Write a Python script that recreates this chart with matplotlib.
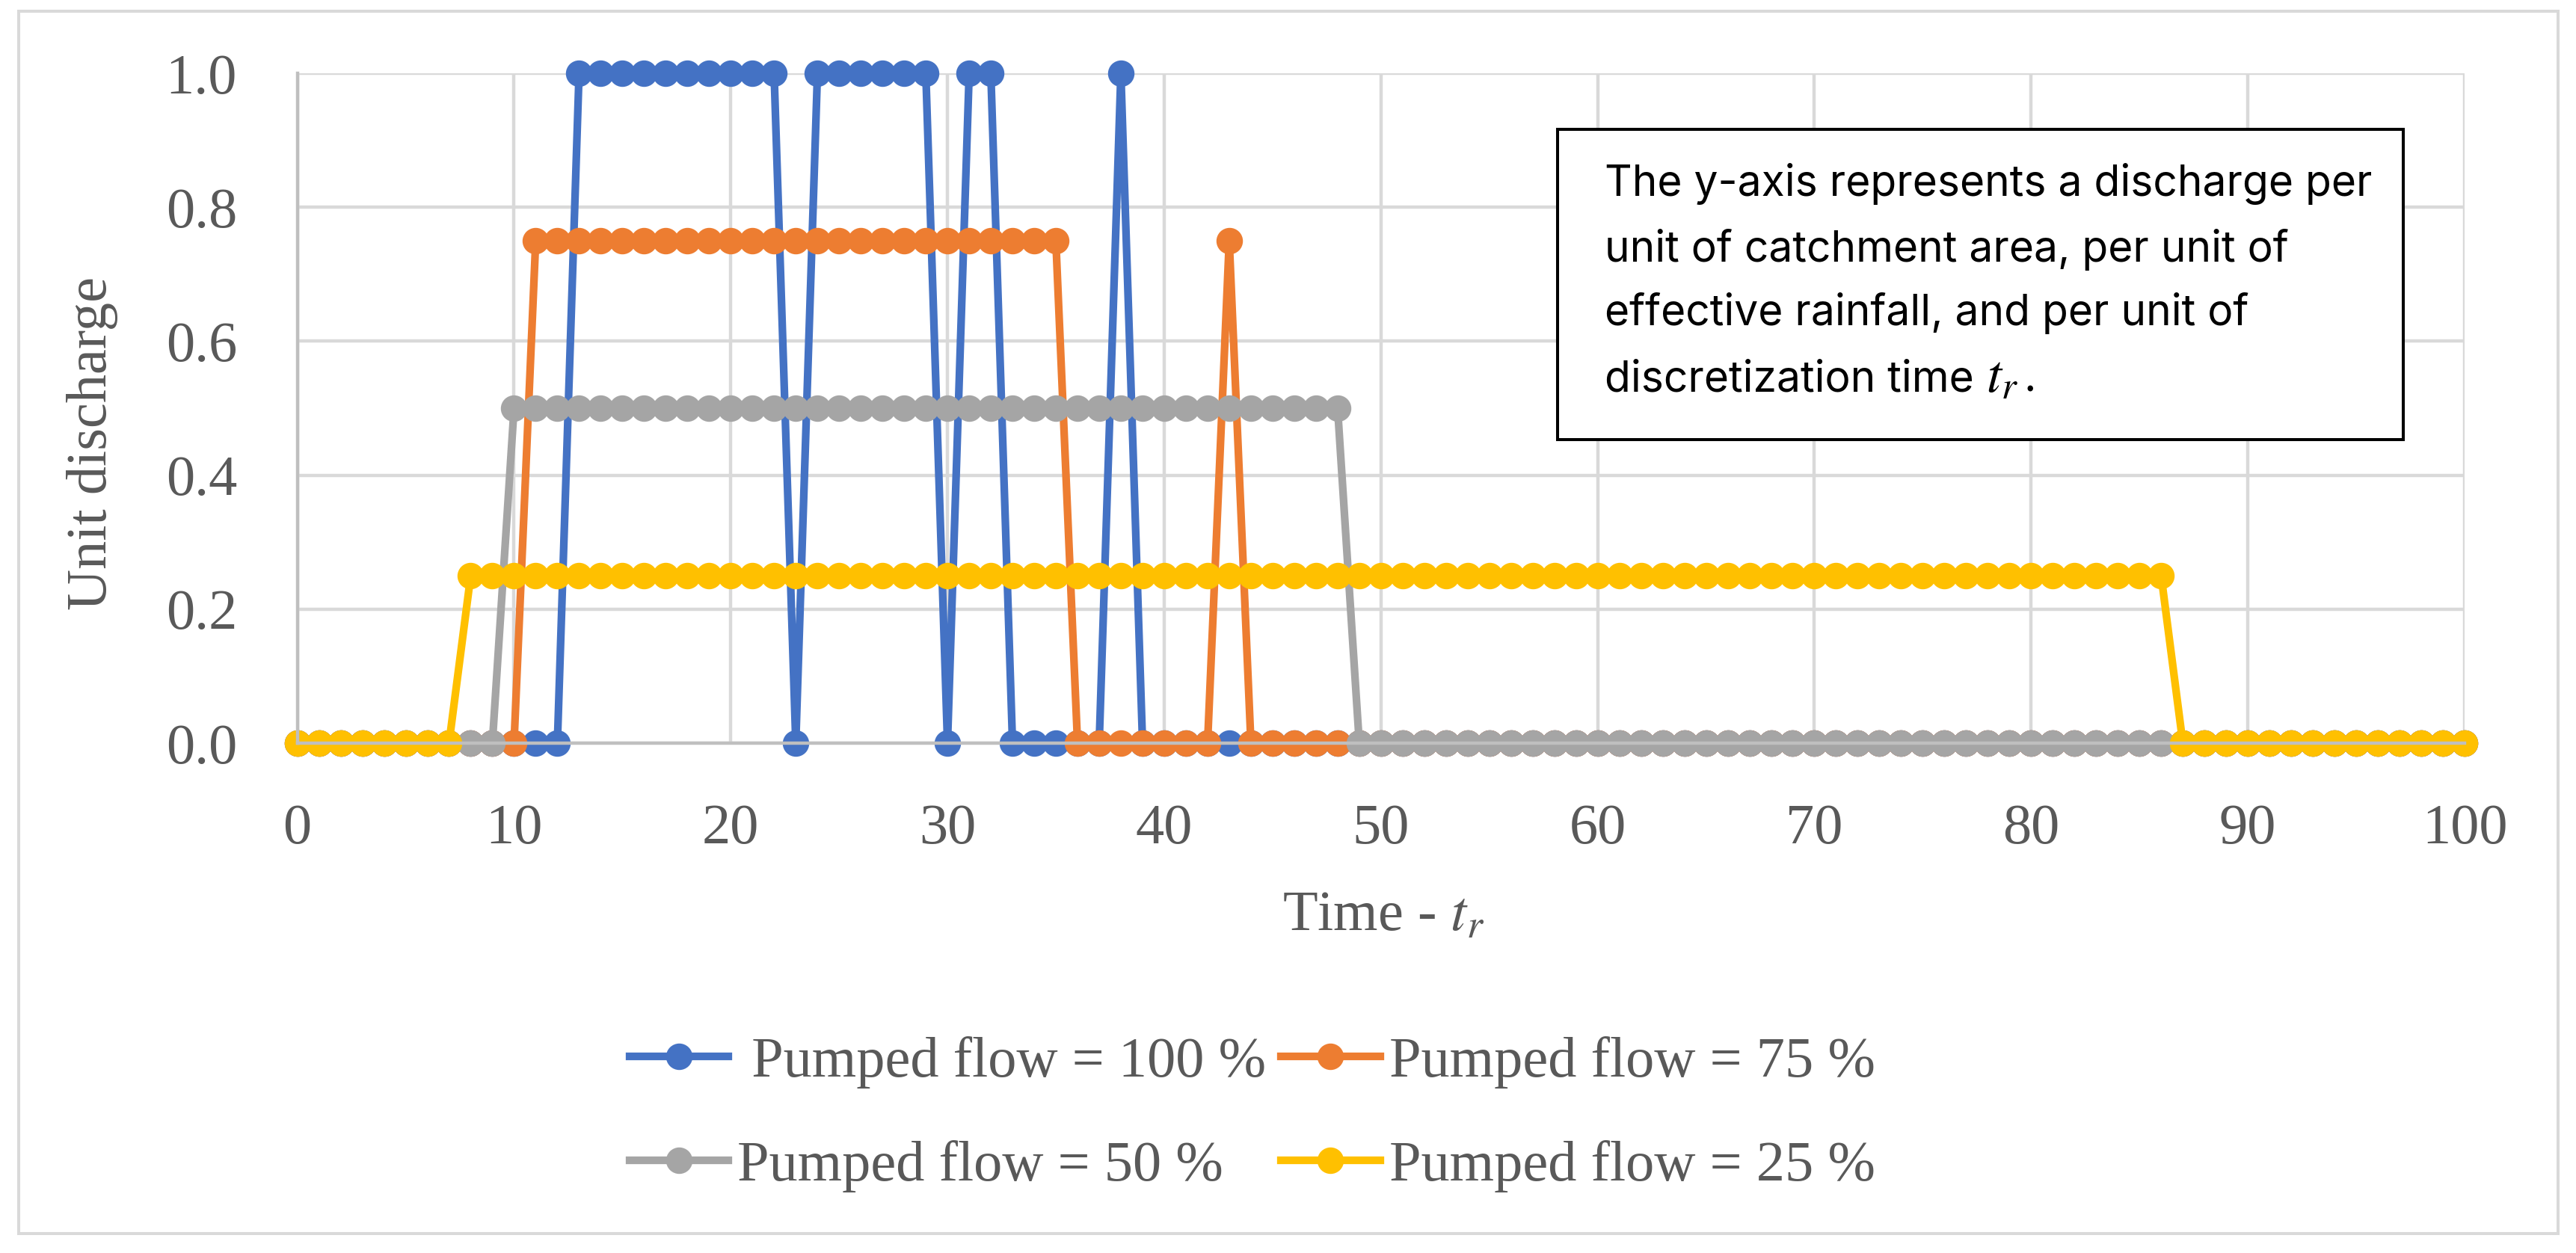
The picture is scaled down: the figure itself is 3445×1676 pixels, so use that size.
import matplotlib.pyplot as plt
from matplotlib.patches import Rectangle, FancyBboxPatch

plt.rcParams['font.family'] = ['Liberation Serif', 'DejaVu Serif']
plt.rcParams['mathtext.fontset'] = 'stix'

# time steps (in units of t_r)
t = list(range(101))

# unit discharge for each pumped-flow ratio
q100 = [0, 0, 0, 0, 0, 0, 0, 0, 0, 0,
        0, 0, 0, 1, 1, 1, 1, 1, 1, 1,
        1, 1, 1, 0, 1, 1, 1, 1, 1, 1,
        0, 1, 1, 0, 0, 0, 0, 0, 1, 0,
        0, 0, 0, 0, 0, 0, 0, 0, 0, 0,
        0, 0, 0, 0, 0, 0, 0, 0, 0, 0,
        0, 0, 0, 0, 0, 0, 0, 0, 0, 0,
        0, 0, 0, 0, 0, 0, 0, 0, 0, 0,
        0, 0, 0, 0, 0, 0, 0, 0, 0, 0,
        0, 0, 0, 0, 0, 0, 0, 0, 0, 0,
        0]
q75 = [0, 0, 0, 0, 0, 0, 0, 0, 0, 0,
       0, 0.75, 0.75, 0.75, 0.75, 0.75, 0.75, 0.75, 0.75, 0.75,
       0.75, 0.75, 0.75, 0.75, 0.75, 0.75, 0.75, 0.75, 0.75, 0.75,
       0.75, 0.75, 0.75, 0.75, 0.75, 0.75, 0, 0, 0, 0,
       0, 0, 0, 0.75, 0, 0, 0, 0, 0, 0,
       0, 0, 0, 0, 0, 0, 0, 0, 0, 0,
       0, 0, 0, 0, 0, 0, 0, 0, 0, 0,
       0, 0, 0, 0, 0, 0, 0, 0, 0, 0,
       0, 0, 0, 0, 0, 0, 0, 0, 0, 0,
       0, 0, 0, 0, 0, 0, 0, 0, 0, 0,
       0]
q50 = [0, 0, 0, 0, 0, 0, 0, 0, 0, 0,
       0.5, 0.5, 0.5, 0.5, 0.5, 0.5, 0.5, 0.5, 0.5, 0.5,
       0.5, 0.5, 0.5, 0.5, 0.5, 0.5, 0.5, 0.5, 0.5, 0.5,
       0.5, 0.5, 0.5, 0.5, 0.5, 0.5, 0.5, 0.5, 0.5, 0.5,
       0.5, 0.5, 0.5, 0.5, 0.5, 0.5, 0.5, 0.5, 0.5, 0,
       0, 0, 0, 0, 0, 0, 0, 0, 0, 0,
       0, 0, 0, 0, 0, 0, 0, 0, 0, 0,
       0, 0, 0, 0, 0, 0, 0, 0, 0, 0,
       0, 0, 0, 0, 0, 0, 0, 0, 0, 0,
       0, 0, 0, 0, 0, 0, 0, 0, 0, 0,
       0]
q25 = [0, 0, 0, 0, 0, 0, 0, 0, 0.25, 0.25,
       0.25, 0.25, 0.25, 0.25, 0.25, 0.25, 0.25, 0.25, 0.25, 0.25,
       0.25, 0.25, 0.25, 0.25, 0.25, 0.25, 0.25, 0.25, 0.25, 0.25,
       0.25, 0.25, 0.25, 0.25, 0.25, 0.25, 0.25, 0.25, 0.25, 0.25,
       0.25, 0.25, 0.25, 0.25, 0.25, 0.25, 0.25, 0.25, 0.25, 0.25,
       0.25, 0.25, 0.25, 0.25, 0.25, 0.25, 0.25, 0.25, 0.25, 0.25,
       0.25, 0.25, 0.25, 0.25, 0.25, 0.25, 0.25, 0.25, 0.25, 0.25,
       0.25, 0.25, 0.25, 0.25, 0.25, 0.25, 0.25, 0.25, 0.25, 0.25,
       0.25, 0.25, 0.25, 0.25, 0.25, 0.25, 0.25, 0, 0, 0,
       0, 0, 0, 0, 0, 0, 0, 0, 0, 0,
       0]

labels = [' Pumped flow = 100 %', 'Pumped flow = 75 %', 'Pumped flow = 50 %', 'Pumped flow = 25 %']
colors = ['#4472C4', '#ED7D31', '#A5A5A5', '#FFC000']
xticks = [0, 10, 20, 30, 40, 50, 60, 70, 80, 90, 100]
yticks = [0.0, 0.2, 0.4, 0.6, 0.8, 1.0]

W, H = 3445, 1676
grey_txt = '#595959'
fs = 55

fig = plt.figure(figsize=(W / 100, H / 100), dpi=100)
ax = fig.add_axes([397.6 / W, 1 - 994 / H, (3296 - 397.6) / W, (994 - 98) / H])

handles = []
for q, c, lab in zip([q100, q75, q50, q25], colors, labels):
    h, = ax.plot(t, q, '-o', color=c, lw=7.4, ms=24.5, clip_on=False, label=lab)
    handles.append(h)

ax.set_xlim(0, 100)
ax.set_ylim(0, 1)
ax.set_xticks(xticks)
ax.set_yticks(yticks)
ax.set_yticklabels(['{:.1f}'.format(v) for v in yticks])
ax.tick_params(length=0, labelsize=fs, labelcolor=grey_txt, pad=58)
ax.grid(color='#D9D9D9', lw=3.2)
ax.set_axisbelow(True)
for s in ['top', 'right']:
    ax.spines[s].set_visible(False)
for s in ['left', 'bottom']:
    ax.spines[s].set_color('#BFBFBF')
    ax.spines[s].set_linewidth(3.2)

fig.text(123 / W, 1 - 593 / H, 'Unit discharge', rotation=90, ha='center', va='center',
         fontsize=fs, color=grey_txt)
fig.text(1850 / W, 1 - 1245 / H, r'Time - $t_r$', ha='center', va='baseline',
         fontsize=fs, color=grey_txt)

# legend: matplotlib fills by column, so reorder to get rows 100/75 and 50/25
order = [0, 2, 1, 3]
fig.legend([handles[i] for i in order], [labels[i] for i in order], ncol=2,
           loc='upper left', bbox_to_anchor=(842 / W, 1 - 1386 / H), frameon=False,
           fontsize=fs, handlelength=1.73, handletextpad=0.16, columnspacing=0.26,
           labelspacing=0.9, borderpad=0, borderaxespad=0, labelcolor=grey_txt)

# note box
x0, y0, x1, y1 = 2083, 173, 3214, 588
fig.patches.append(FancyBboxPatch((x0 / W, 1 - y1 / H), (x1 - x0) / W, (y1 - y0) / H,
                                  boxstyle='square,pad=0', transform=fig.transFigure,
                                  facecolor='white', edgecolor='black', lw=2.9))
note = ['The y-axis represents a discharge per',
        'unit of catchment area, per unit of',
        'effective rainfall, and per unit of',
        'discretization time ']
note_fam = ['Inter', 'DejaVu Sans']
last = None
for line, yb in zip(note, [262, 350, 435, 523]):
    last = fig.text(2146 / W, 1 - yb / H, line, ha='left', va='baseline', fontsize=41,
                    family=note_fam, color='black')
# italic t_r and the full stop after the last line
r = fig.canvas.get_renderer()
xe = last.get_window_extent(r).x1
tr = fig.text(xe / W, 1 - 523 / H, r'$t_r$', ha='left', va='baseline', fontsize=52,
              color='black')
xe2 = tr.get_window_extent(r).x1
fig.text((xe2 + 8) / W, 1 - 523 / H, '.', ha='left', va='baseline', fontsize=41,
         family=note_fam, color='black')

# chart frame
fig.patches.append(Rectangle((25 / W, 1 - 1650 / H), (3421 - 25) / W, (1650 - 15) / H,
                             transform=fig.transFigure, fill=False,
                             edgecolor='#D9D9D9', lw=2.9))

fig.savefig('out.png', dpi=100)
